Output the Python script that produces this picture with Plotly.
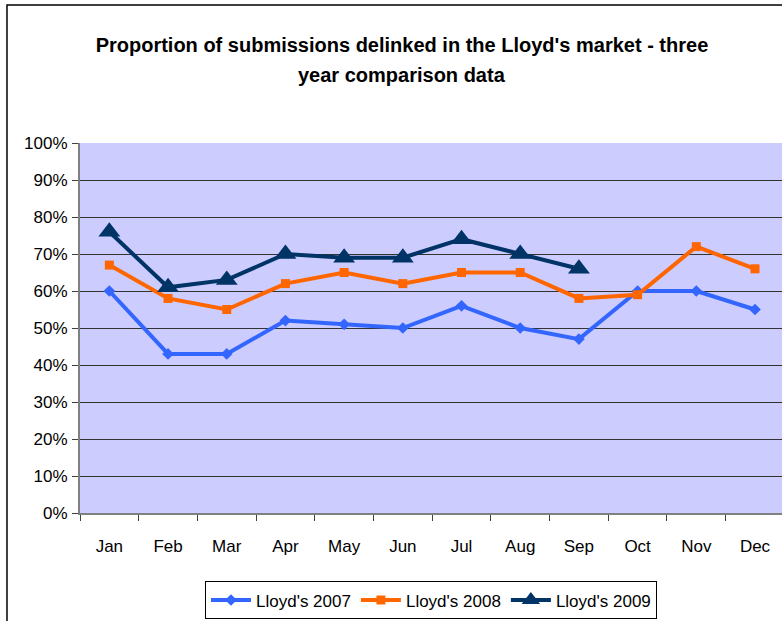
import plotly.graph_objects as go

months = ["Jan", "Feb", "Mar", "Apr", "May", "Jun", "Jul", "Aug", "Sep", "Oct", "Nov", "Dec"]
lloyds_2007 = [0.60, 0.43, 0.43, 0.52, 0.51, 0.50, 0.56, 0.50, 0.47, 0.60, 0.60, 0.55]
lloyds_2008 = [0.67, 0.58, 0.55, 0.62, 0.65, 0.62, 0.65, 0.65, 0.58, 0.59, 0.72, 0.66]
lloyds_2009 = [0.76, 0.61, 0.63, 0.70, 0.69, 0.69, 0.74, 0.70, 0.66]
y_ticks = [0, 0.1, 0.2, 0.3, 0.4, 0.5, 0.6, 0.7, 0.8, 0.9, 1.0]
title_lines = ["Proportion of submissions delinked in the Lloyd's market - three", "year comparison data"]

FONT = "Liberation Sans, Arial, sans-serif"

fig = go.Figure()
fig.add_trace(go.Scatter(x=months, y=lloyds_2007, name="Lloyd's 2007", mode="lines+markers",
                         line=dict(color="#3366FF", width=4),
                         marker=dict(symbol="diamond", size=9, color="#3366FF")))
fig.add_trace(go.Scatter(x=months, y=lloyds_2008, name="Lloyd's 2008", mode="lines+markers",
                         line=dict(color="#FF6600", width=4),
                         marker=dict(symbol="square", size=9, color="#FF6600")))
fig.add_trace(go.Scatter(x=months[:len(lloyds_2009)], y=lloyds_2009, name="Lloyd's 2009", mode="lines+markers",
                         line=dict(color="#003366", width=4),
                         marker=dict(symbol="triangle-up", size=19, color="#003366")))

fig.update_layout(
    width=782, height=621,
    margin=dict(l=80, r=0, t=143, b=108),
    paper_bgcolor="white",
    plot_bgcolor="#CCCCFF",
    font=dict(family=FONT, size=17, color="black"),
    title=dict(text="<b>" + title_lines[0] + "</b>",
               x=0.514, xanchor="center", y=0.927, yanchor="middle",
               font=dict(family=FONT, size=20, color="black")),
    showlegend=True,
    legend=dict(orientation="h", x=0.5, xanchor="center", xref="paper",
                y=-0.185, yanchor="top",
                bordercolor="black", borderwidth=1, bgcolor="white",
                font=dict(family=FONT, size=17), itemwidth=40,
                tracegroupgap=0),
    xaxis=dict(type="category", categoryorder="array", categoryarray=months,
               range=[-0.5, 11.46], showgrid=False, showline=True, linecolor="#808080", linewidth=2,
               ticks="outside", ticklen=6, tickwidth=1, tickcolor="#404040", tickson="boundaries",
               ticklabelstandoff=17, tickfont=dict(family=FONT, size=17)),
    yaxis=dict(range=[0, 1.0], tickvals=y_ticks, tickformat=".0%",
               showgrid=True, gridcolor="#333333", gridwidth=1,
               showline=True, linecolor="#808080", linewidth=2, zeroline=False,
               ticks="outside", ticklen=6, tickwidth=1, tickcolor="#404040",
               ticklabelstandoff=1, tickfont=dict(family=FONT, size=17)),
)

fig.add_annotation(text="<b>" + title_lines[1] + "</b>", xref="paper", yref="paper",
                   x=0.459, y=1.184, xanchor="center", yanchor="middle", showarrow=False,
                   font=dict(family=FONT, size=20, color="black"))

fig.add_shape(type="rect", xref="paper", yref="paper", x0=-0.104, x1=1.1, y0=-0.4, y1=1.373,
              line=dict(color="black", width=1.5), fillcolor="rgba(0,0,0,0)", layer="below")

fig.write_html("out.html", config={"displayModeBar": False},
               post_script="document.body.style.margin='0';document.body.style.overflow='hidden';")
